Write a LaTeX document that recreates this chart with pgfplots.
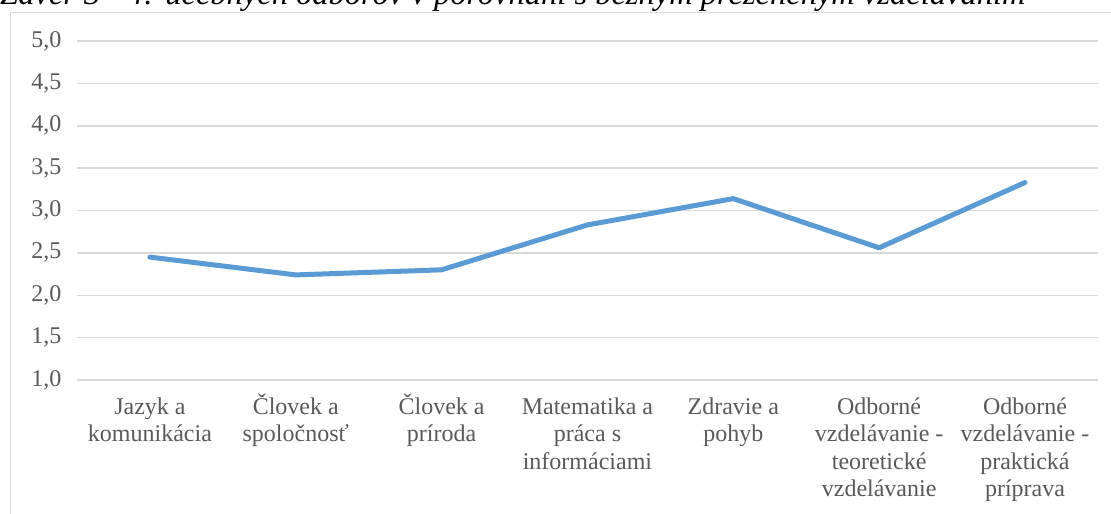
\documentclass[border=0pt]{standalone}
\usepackage{pgfplots}
\pgfplotsset{compat=1.18}
\usepackage{fontspec}
\setmainfont{Liberation Serif}
\definecolor{linec}{HTML}{5B9BD5}
\definecolor{gridc}{HTML}{D9D9D9}
\definecolor{txt}{HTML}{595959}
\newcommand{\s}{\vphantom{Čj}}
\begin{document}
\begin{tikzpicture}[x=1pt,y=1pt]
\clip (0,0) rectangle (1111,514);
\draw[gridc, line width=1.5pt] (10.5,-20) -- (10.5,501.5) -- (1130,501.5);
\node[anchor=base west, inner sep=0, font=\fontsize{32.5}{36}\selectfont\itshape] at (0,509) {Záver 3 - 4: učebných odborov v porovnaní s bežným prezenčným vzdelávaním};
\begin{axis}[
  at={(77pt,134pt)}, anchor=south west,
  scale only axis, width=1021pt, height=339pt,
  xmin=0.5, xmax=7.5, ymin=1, ymax=5,
  ytick={1,1.5,2,2.5,3,3.5,4,4.5,5},
  xtick={1,2,3,4,5,6,7},
  xticklabels={{\s Jazyk a\\komunikácia},{\s Človek a\\spoločnosť},{\s Človek a\\príroda},{\s Matematika a\\práca s\\informáciami},{\s Zdravie a\\pohyb},{\s Odborné\\vzdelávanie -\\teoretické\\vzdelávanie},{\s Odborné\\vzdelávanie -\\praktická\\príprava}},
  xticklabel style={align=center, font=\fontsize{24}{27.6}\selectfont, text=txt, anchor=north, yshift=-10pt},
  yticklabel style={font=\fontsize{24}{27.6}\selectfont, text=txt, anchor=east, xshift=-12pt},
  /pgf/number format/.cd, fixed, fixed zerofill, precision=1, use comma, assume math mode=true,
  /pgfplots/.cd,
  major tick length=0pt,
  axis line style={draw=none},
  ymajorgrids, grid style={gridc, line width=1.5pt},
  clip=false,
]
\addplot[linec, line width=5pt, line join=round, line cap=round] coordinates {
(1,2.45) (2,2.24) (3,2.30) (4,2.83) (5,3.14) (6,2.56) (7,3.33)
};
\end{axis}
\end{tikzpicture}
\end{document}
